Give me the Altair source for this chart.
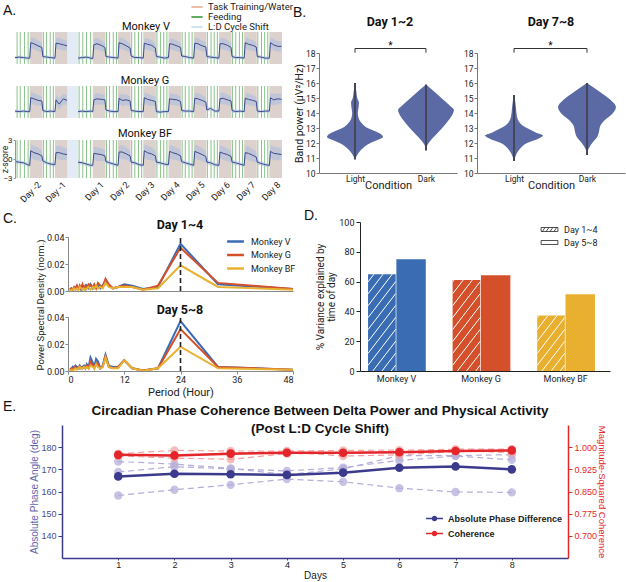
import altair as alt
import pandas as pd

W, H = 626, 582
FONT = "Roboto"
SANS = "Liberation Sans"

# ======================= DATA =======================
# ---- Panel A: z-scored delta power time series (hours from start of recording)
A_HOURS = [0, 4, 8, 12, 14, 15, 18, 22, 25.5, 26.5, 30, 34, 38, 39, 42, 46, 49.5,
           60, 64, 68, 72,
           74, 75, 78, 82, 85.5, 86.5, 90, 94,
           98, 99, 102, 106, 109.5, 110.5, 114, 118,
           122, 123, 126, 130, 133.5, 134.5, 138, 142,
           146, 147, 150, 154, 157.5, 158.5, 162, 166,
           170, 171, 174, 178, 181.5, 182.5, 186, 190,
           194, 195, 198, 202, 205.5, 206.5, 210, 214,
           218, 219, 222, 226, 229.5, 230.5, 234, 238,
           242, 243, 246, 250, 253.5]
A_V = [-1.8, -1.7, -1.8, -1.9, -1.9, 1.0, 0.8, 0.4, 0.1, -1.6, -1.7, -1.8, -1.9, 0.9, 0.8, 0.6, 0.4,
       -1.9, -1.8, -1.7, -1.9,
       -2.0, 0.6, 0.8, 0.5, 0.1, -1.6, -1.7, -1.8,
       -1.9, 1.0, 0.8, 0.4, 0.0, -1.5, -1.8, -1.8,
       -1.9, 0.9, 0.7, 0.5, 0.0, -1.6, -1.7, -1.9,
       -1.8, 0.8, 0.7, 0.4, 0.1, -1.5, -1.6, -1.8,
       -1.9, 0.9, 0.8, 0.4, 0.2, -1.6, -1.7, -1.8,
       -1.9, 0.8, 0.8, 0.5, 0.1, -1.6, -1.8, -1.8,
       -1.9, 1.0, 0.7, 0.5, 0.2, -1.6, -1.7, -1.9,
       -1.9, 1.0, 0.6, 0.3, 0.3]
A_G = [-1.7, -1.8, -1.7, -1.8, -1.8, 0.8, 0.6, 0.3, 0.2, -1.6, -1.8, -1.7, -1.8, 0.4, -0.4, 0.6, 0.3,
       -1.8, -1.7, -1.8, -1.7,
       -1.8, 0.4, 0.6, 0.5, 0.4, -1.5, -1.7, -1.8,
       -1.8, 0.7, 0.3, 0.4, 0.2, -1.6, -1.7, -1.8,
       -1.8, 0.8, 0.5, 0.3, 0.1, -1.8, -1.9, -1.8,
       -1.8, 0.6, 0.5, 0.4, 0.1, -1.6, -1.7, -1.7,
       -1.8, 0.7, 0.6, 0.3, 0.0, -1.5, -1.2, -1.7,
       -1.7, 0.6, 0.7, 0.4, 0.2, -1.6, -1.8, -1.7,
       -1.8, 0.7, 0.5, 0.3, 0.1, -1.7, -1.8, -1.7,
       -1.7, 0.8, 0.4, 0.6, 0.5]
A_BF = [-0.4, -0.5, -0.6, -0.9, -1.0, 1.3, 1.0, 0.8, 0.5, -0.3, -0.6, -0.8, -0.9, 1.0, 1.0, 0.8, 0.7,
        -0.5, -0.6, -0.8, -1.0,
        -1.0, 0.9, 0.8, 0.7, 0.5, -0.4, -0.6, -0.8,
        -1.0, 1.1, 1.1, 0.8, 0.5, -0.5, -0.6, -0.9,
        -1.0, 1.3, 1.0, 0.8, 0.5, -0.5, -0.6, -0.8,
        -0.9, 1.2, 1.0, 0.8, 0.5, -0.4, -0.6, -0.8,
        -1.0, 1.2, 1.0, 0.7, 0.4, -0.5, -0.6, -0.9,
        -1.0, 1.1, 0.9, 0.7, 0.4, -0.5, -0.6, -0.8,
        -1.0, 1.0, 0.9, 0.6, 0.3, -0.5, -0.7, -0.9,
        -1.0, 1.2, 0.9, 0.8, 0.7]
A_SPREAD = [0.3, 0.3, 0.3, 0.3, 0.3, 1.0, 1.1, 1.0, 0.9, 0.4, 0.3, 0.3, 0.3, 1.0, 1.1, 1.0, 0.9,
            0.3, 0.3, 0.3, 0.3,
            0.3, 1.0, 1.1, 1.0, 0.9, 0.4, 0.3, 0.3,
            0.3, 1.0, 1.1, 1.0, 0.9, 0.4, 0.3, 0.3,
            0.3, 1.0, 1.1, 1.0, 0.9, 0.4, 0.3, 0.3,
            0.3, 1.0, 1.1, 1.0, 0.9, 0.4, 0.3, 0.3,
            0.3, 1.0, 1.1, 1.0, 0.9, 0.4, 0.3, 0.3,
            0.3, 1.0, 1.1, 1.0, 0.9, 0.4, 0.3, 0.3,
            0.3, 1.0, 1.1, 1.0, 0.9, 0.4, 0.3, 0.3,
            0.3, 1.0, 1.1, 1.0, 0.9]
A_DARK_START = [14, 38, 74, 98, 122, 146, 170, 194, 218, 242]
A_DARK_END = [26, 50, 86, 110, 134, 158, 182, 206, 230, 254]
A_SHIFT = [50, 60]
A_FEEDING = [2, 5, 9, 12.5, 27, 30, 33.5, 36.5, 61, 64.5, 68, 72,
             87, 90, 93.5, 96.5, 111, 114, 117.5, 120.5, 135, 138.5, 141.5, 144.5,
             159, 162, 165.5, 168.5, 183, 186.5, 189.5, 192.5, 207, 210, 213.5, 216.5,
             231, 234.5, 237.5, 240.5]
A_TICKS = [20, 44, 80, 104, 128, 152, 176, 200, 224, 248]
A_DAY_LABELS = ["Day -2", "Day -1", "Day 1", "Day 2", "Day 3", "Day 4",
                "Day 5", "Day 6", "Day 7", "Day 8"]
A_LEGEND = ["Task Training/Water", "Feeding", "L:D Cycle Shift"]

# ---- Panel B: violin profiles (band power level, relative density width)
B1_LIGHT_Y = [10.9, 11.2, 11.6, 12.0, 12.2, 12.4, 12.6, 12.8, 13.0, 13.3, 13.6, 14.0, 14.4, 14.7, 15.0, 15.4, 16.0]
B1_LIGHT_W = [0.0, 0.08, 0.25, 0.55, 0.8, 1.0, 0.92, 0.7, 0.45, 0.25, 0.14, 0.1, 0.13, 0.14, 0.08, 0.05, 0.0]
B1_DARK_Y = [11.5, 11.9, 12.2, 12.6, 13.0, 13.5, 14.0, 14.2, 14.5, 15.0, 15.5, 15.9]
B1_DARK_W = [0.0, 0.06, 0.18, 0.38, 0.58, 0.8, 0.97, 1.0, 0.85, 0.55, 0.25, 0.0]
B2_LIGHT_Y = [10.8, 11.2, 11.6, 12.0, 12.3, 12.5, 12.7, 12.9, 13.1, 13.4, 13.8, 14.3, 14.8, 15.2]
B2_LIGHT_W = [0.0, 0.07, 0.2, 0.45, 0.85, 1.0, 0.75, 0.55, 0.35, 0.18, 0.1, 0.07, 0.04, 0.0]
B2_DARK_Y = [11.2, 11.6, 12.0, 12.4, 12.8, 13.1, 13.5, 13.9, 14.4, 14.9, 15.4, 16.0]
B2_DARK_W = [0.0, 0.05, 0.18, 0.35, 0.42, 0.45, 0.6, 0.85, 1.0, 0.8, 0.45, 0.0]

# ---- Panel C: power spectral density vs period
C_PERIOD = [48, 32, 24, 19.2, 16, 13.7, 12, 10.7, 9.6, 8.7, 8, 7.4, 6.9, 6.4, 6, 5.6,
            5.3, 4.8, 4.4, 4, 3.7, 3.4, 3.1, 2.8, 2.5, 2.2, 1.9, 1.6, 1.3, 1.0, 0.7, 0.4]
C_MONKEYS = ["Monkey V", "Monkey G", "Monkey BF"]
C_COLORS = ["#3a6cb4", "#d4502b", "#e9b030"]
C14_V = [0.0015, 0.005, 0.035, 0.003, 0.0015, 0.004, 0.005, 0.003, 0.002, 0.004, 0.008, 0.004, 0.002, 0.005, 0.003, 0.004,
         0.002, 0.005, 0.002, 0.004, 0.001, 0.003, 0.004, 0.001, 0.003, 0.002, 0.003, 0.001, 0.002, 0.001, 0.002, 0.001]
C14_G = [0.0015, 0.006, 0.032, 0.004, 0.001, 0.003, 0.004, 0.003, 0.002, 0.005, 0.009, 0.003, 0.004, 0.006, 0.002, 0.005,
         0.003, 0.004, 0.005, 0.002, 0.004, 0.002, 0.005, 0.002, 0.004, 0.001, 0.004, 0.002, 0.003, 0.001, 0.002, 0.001]
C14_BF = [0.001, 0.003, 0.019, 0.002, 0.001, 0.003, 0.003, 0.003, 0.002, 0.003, 0.006, 0.002, 0.003, 0.002, 0.004, 0.002,
          0.003, 0.001, 0.003, 0.002, 0.001, 0.002, 0.001, 0.002, 0.003, 0.001, 0.002, 0.001, 0.002, 0.001, 0.001, 0.0]
C58_V = [0.001, 0.003, 0.037, 0.002, 0.0003, 0.002, 0.008, 0.003, 0.003, 0.004, 0.012, 0.004, 0.002, 0.007, 0.009, 0.003,
         0.006, 0.010, 0.003, 0.005, 0.002, 0.004, 0.003, 0.002, 0.004, 0.002, 0.003, 0.004, 0.002, 0.003, 0.001, 0.001]
C58_G = [0.001, 0.003, 0.031, 0.002, 0.0003, 0.002, 0.008, 0.003, 0.002, 0.003, 0.011, 0.003, 0.002, 0.005, 0.006, 0.002,
         0.004, 0.007, 0.002, 0.004, 0.003, 0.003, 0.002, 0.003, 0.002, 0.003, 0.002, 0.002, 0.003, 0.001, 0.002, 0.001]
C58_BF = [0.001, 0.002, 0.018, 0.002, 0.0002, 0.002, 0.008, 0.002, 0.002, 0.003, 0.010, 0.003, 0.002, 0.003, 0.005, 0.002,
          0.003, 0.004, 0.002, 0.003, 0.002, 0.003, 0.002, 0.002, 0.003, 0.002, 0.001, 0.002, 0.001, 0.001, 0.001, 0.0]

# ---- Panel D: % variance explained by time of day
D_MONKEYS = ["Monkey V", "Monkey G", "Monkey BF"]
D_DAY14 = [65.0, 61.0, 37.3]
D_DAY58 = [75.0, 64.2, 51.5]
D_PERIODS = ["Day 1~4", "Day 5~8"]

# ---- Panel E: phase coherence per day
E_DAYS = [1, 2, 3, 4, 5, 6, 7, 8]
E_PHASE_MEAN = [166.8, 168.0, 167.8, 167.5, 168.5, 170.7, 171.3, 170.0]
E_PHASE_M1 = [158.2, 160.8, 163.0, 165.6, 164.4, 161.5, 159.8, 159.6]
E_PHASE_M2 = [168.8, 171.2, 170.2, 169.3, 170.8, 174.0, 176.0, 174.3]
E_PHASE_M3 = [173.5, 172.4, 170.4, 167.6, 170.2, 176.2, 176.2, 176.6]
E_COH_MEAN = [0.974, 0.972, 0.978, 0.981, 0.981, 0.983, 0.987, 0.989]
E_COH_M1 = [0.978, 0.989, 0.987, 0.987, 0.989, 0.990, 0.993, 0.994]
E_COH_M2 = [0.970, 0.963, 0.959, 0.978, 0.978, 0.985, 0.989, 0.981]
E_COH_M3 = [0.974, 0.970, 0.981, 0.984, 0.970, 0.974, 0.985, 0.991]
E_LEGEND = ["Absolute Phase Difference", "Coherence"]

# ======================= HELPERS =======================
def lin(domain, rng):
    return alt.Scale(domain=domain, range=rng, nice=False, zero=False)

def label_expr(values, labels):
    expr = "''"
    for v, l in reversed(list(zip(values, labels))):
        expr = f"datum.value == {v} ? '{l}' : ({expr})"
    return expr

def texts(rows, **style):
    df = pd.DataFrame(rows, columns=["t", "px", "py"])
    return alt.Chart(df).mark_text(**style).encode(
        x=alt.X("px:Q", scale=None, axis=None),
        y=alt.Y("py:Q", scale=None, axis=None),
        text="t:N")

children = []

# ======================= PANEL A =======================
A_X0, A_X1 = 15, 282
A_STRIPS = [("Monkey V", A_V, 32, 64), ("Monkey G", A_G, 86, 118), ("Monkey BF", A_BF, 140, 178)]
for i, (name, vals, ytop, ybot) in enumerate(A_STRIPS):
    last = i == len(A_STRIPS) - 1
    xs = lin([0, 254], [A_X0, A_X1])
    ys = lin([-3, 3], [ybot, ytop])
    df = pd.DataFrame({"hour": A_HOURS, "z": vals, "spread": A_SPREAD})
    df["seg"] = ["pre" if h < 55 else "post" for h in A_HOURS]
    df["lo"] = df.z - df.spread
    df["hi"] = df.z + df.spread
    dark = pd.DataFrame({"start": A_DARK_START, "end": A_DARK_END, "lo": -3, "hi": 3})
    shift = pd.DataFrame({"start": [A_SHIFT[0]], "end": [A_SHIFT[1]], "lo": [-3], "hi": [3]})
    feed = pd.DataFrame({"hour": A_FEEDING, "lo": -3, "hi": 3})
    children.append(alt.Chart(dark).mark_rect(color="#dcd1cc").encode(
        x=alt.X("start:Q", scale=xs, axis=None), x2="end:Q",
        y=alt.Y("lo:Q", scale=ys, axis=None), y2="hi:Q"))
    children.append(alt.Chart(shift).mark_rect(color="#e2ebf6").encode(
        x=alt.X("start:Q", scale=xs, axis=None), x2="end:Q",
        y=alt.Y("lo:Q", scale=ys, axis=None), y2="hi:Q"))
    children.append(alt.Chart(feed).mark_rule(color="#7dbb7d", strokeWidth=0.9).encode(
        x=alt.X("hour:Q", scale=xs, axis=None),
        y=alt.Y("lo:Q", scale=ys, axis=None), y2="hi:Q"))
    children.append(alt.Chart(df).mark_area(color="#a9bde2", opacity=0.55).encode(
        x=alt.X("hour:Q", scale=xs, axis=None),
        y=alt.Y("lo:Q", scale=ys, axis=None), y2="hi:Q", detail="seg:N"))
    if last:
        xaxis = alt.Axis(orient="bottom", offset=ybot - H, values=A_TICKS, zindex=2,
                         labelExpr=label_expr(A_TICKS, A_DAY_LABELS), labelAngle=-45,
                         labelFontSize=9, labelPadding=2, domain=False, ticks=False, title=None)
        yaxis = alt.Axis(orient="left", offset=-A_X0, values=[-3, 0, 3], labelFontSize=8, zindex=2,
                         tickSize=2, labelPadding=1, domainColor="#999", tickColor="#999",
                         title="z-score", titleFontSize=8.5, titleX=-11, titleBaseline="middle")
    else:
        xaxis = None
        yaxis = None
    children.append(alt.Chart(df).mark_line(color="#3b4a8c", strokeWidth=1).encode(
        x=alt.X("hour:Q", scale=xs, axis=xaxis),
        y=alt.Y("z:Q", scale=ys, axis=yaxis), detail="seg:N"))

a_leg = pd.DataFrame({"kind": A_LEGEND})
children.append(alt.Chart(a_leg).mark_rule(opacity=0).encode(
    x=alt.value(0), y=alt.value(0),
    color=alt.Color("kind:N", scale=alt.Scale(domain=A_LEGEND, range=["#efbcaa", "#5fae62", "#d5e2f3"]),
                    legend=alt.Legend(orient="none", legendX=192, legendY=2, title=None,
                                      symbolType="M-1.4,0H1.4", symbolSize=64, symbolStrokeWidth=2,
                                      symbolOpacity=1, labelFontSize=9.5, labelOffset=6,
                                      rowPadding=0, padding=0))))

# ======================= PANEL B =======================
B_YS = lin([10, 18], [173, 53])
B_PANELS = [
    (319, 457, [-0.007, 1.937], B1_LIGHT_Y, B1_LIGHT_W, B1_DARK_Y, B1_DARK_W, 0.394, True),
    (477, 625, [-0.007, 2.021], B2_LIGHT_Y, B2_LIGHT_W, B2_DARK_Y, B2_DARK_W, 0.397, False),
]
for (x0, x1, dom, ly, lw, dy, dw, wmax, first) in B_PANELS:
    xs = lin(dom, [x0, x1])
    rows = []
    for cond, c, yy, ww in [("Light", 0.5, ly, lw), ("Dark", 1.5, dy, dw)]:
        for y, w in zip(yy, ww):
            rows.append({"cond": cond, "val": y, "left": c - w * wmax, "right": c + w * wmax})
    vdf = pd.DataFrame(rows)
    cdf = pd.DataFrame({"c": [0.5, 1.5], "lo": [min(ly), min(dy)], "hi": [max(ly), max(dy)]})
    bdf = pd.DataFrame({"x": [0.5, 0.5, 1.5], "x2": [1.5, 0.5, 1.5],
                        "y": [18.3, 18.3, 18.3], "y2": [18.3, 18.02, 18.02]})
    sdf = pd.DataFrame({"x": [1.0], "y": [18.5], "t": ["*"]})
    xaxis = alt.Axis(orient="bottom", offset=173 - H, values=[0.5, 1.5], zindex=2,
                     labelExpr="datum.value < 1 ? 'Light' : 'Dark'", ticks=False,
                     labelFontSize=8.5, labelPadding=1, domainColor="#777",
                     title="Condition", titleFontSize=11, titlePadding=-3)
    yaxis = alt.Axis(orient="left", offset=-x0, values=list(range(10, 19)), labelFontSize=8.5, zindex=2,
                     tickSize=3, labelPadding=1, domainColor="#777", tickColor="#777",
                     title="Band power (µV²/Hz)" if first else None, titleFontSize=10.5, titlePadding=1)
    children.append(alt.Chart(vdf).mark_area(orient="horizontal", interpolate="monotone", color="#5b6aa4").encode(
        y=alt.Y("val:Q", scale=B_YS, axis=yaxis),
        x=alt.X("left:Q", scale=xs, axis=xaxis), x2="right:Q", detail="cond:N"))
    children.append(alt.Chart(cdf).mark_rule(color="#45465a", strokeWidth=2).encode(
        x=alt.X("c:Q", scale=xs, axis=None), y=alt.Y("lo:Q", scale=B_YS, axis=None), y2="hi:Q"))
    children.append(alt.Chart(bdf).mark_rule(color="#333", strokeWidth=1).encode(
        x=alt.X("x:Q", scale=xs, axis=None), x2="x2:Q",
        y=alt.Y("y:Q", scale=B_YS, axis=None), y2="y2:Q"))
    children.append(alt.Chart(sdf).mark_text(fontSize=10, font=FONT).encode(
        x=alt.X("x:Q", scale=xs, axis=None), y=alt.Y("y:Q", scale=B_YS, axis=None), text="t:N"))

# ======================= PANEL C =======================
C_XS = lin([0, 48], [68, 293])
for (series, ytop, ybot, show_x, show_leg) in [((C14_V, C14_G, C14_BF), 237, 291, False, True),
                                               ((C58_V, C58_G, C58_BF), 317, 371, True, False)]:
    ys = lin([0, 0.04], [ybot, ytop])
    rows = []
    for m, vals in zip(C_MONKEYS, series):
        for p, v in zip(C_PERIOD, vals):
            rows.append({"monkey": m, "period": p, "psd": v})
    cdf = pd.DataFrame(rows)
    ddf = pd.DataFrame({"p": [24], "lo": [0], "hi": [0.041]})
    if show_x:
        xaxis = alt.Axis(orient="bottom", offset=ybot - H, values=[0, 12, 24, 36, 48], labelFontSize=9,
                         tickSize=3, labelPadding=1, domainColor="#888", tickColor="#888", zindex=2,
                         title="Period (Hour)", titleFontSize=11, titlePadding=2)
    else:
        xaxis = alt.Axis(orient="bottom", offset=ybot - H, labels=False, ticks=False, zindex=2,
                         domainColor="#888", title=None)
    yaxis = alt.Axis(orient="left", offset=-68, values=[0, 0.02, 0.04], format=".2f", labelFontSize=9,
                     tickSize=3, labelPadding=1, domainColor="#888", tickColor="#888", title=None, zindex=2)
    leg = alt.Legend(orient="none", legendX=228, legendY=234, title=None, symbolType="M-1.4,0H1.4",
                     symbolSize=144, symbolStrokeWidth=2.5, labelFontSize=9, labelOffset=8,
                     rowPadding=0.5, padding=0) if show_leg else None
    children.append(alt.Chart(cdf).mark_line(strokeWidth=2).encode(
        x=alt.X("period:Q", scale=C_XS, axis=xaxis),
        y=alt.Y("psd:Q", scale=ys, axis=yaxis),
        color=alt.Color("monkey:N", scale=alt.Scale(domain=C_MONKEYS, range=C_COLORS), legend=leg),
        order=alt.Order("period:Q")))
    children.append(alt.Chart(ddf).mark_rule(color="#222", strokeDash=[5, 3], strokeWidth=1.6).encode(
        x=alt.X("p:Q", scale=C_XS, axis=None), y=alt.Y("lo:Q", scale=ys, axis=None), y2="hi:Q"))

# ======================= PANEL D =======================
D_XS = lin([0.074, 3.03], [360, 610])
D_YS = lin([0, 100], [371, 222])
rows = []
hatch = []
SLOPE, STEP = 74.0, 8.0
for i, m in enumerate(D_MONKEYS):
    c = i + 0.5
    col = C_COLORS[i]
    rows.append({"x": c - 0.331, "x2": c - 0.004, "v": D_DAY14[i], "col": col})
    rows.append({"x": c + 0.004, "x2": c + 0.352, "v": D_DAY58[i], "col": col})
    x0, x1, top = c - 0.331, c - 0.004, D_DAY14[i]
    b = -SLOPE * (x1 - x0) + STEP / 2
    while b < top:
        xa = max(x0, x0 + (0 - b) / SLOPE)
        xb = min(x1, x0 + (top - b) / SLOPE)
        if xb > xa:
            hatch.append({"x": xa, "y": b + SLOPE * (xa - x0), "x2": xb, "y2": b + SLOPE * (xb - x0)})
        b += STEP
bars = pd.DataFrame(rows)
bars["zero"] = 0
hdf = pd.DataFrame(hatch)
children.append(alt.Chart(bars).mark_rect().encode(
    x=alt.X("x:Q", scale=D_XS,
            axis=alt.Axis(orient="bottom", offset=371 - H, values=[0.5, 1.5, 2.5], zindex=2,
                          labelExpr=label_expr([0.5, 1.5, 2.5], D_MONKEYS), ticks=False,
                          labelFontSize=9, labelPadding=3, domainColor="#222", title=None)),
    x2="x2:Q",
    y=alt.Y("zero:Q", scale=D_YS,
            axis=alt.Axis(orient="left", offset=-360, values=[0, 20, 40, 60, 80, 100], labelFontSize=9,
                          tickSize=4, labelPadding=2, domainColor="#222", tickColor="#222", zindex=2,
                          title=["% Variance explained by", "time of day"], titleFontSize=10,
                          titlePadding=2, titleLineHeight=11)),
    y2="v:Q",
    color=alt.Color("col:N", scale=None)))
children.append(alt.Chart(hdf).mark_rule(color="white", strokeWidth=1).encode(
    x=alt.X("x:Q", scale=D_XS, axis=None), x2="x2:Q",
    y=alt.Y("y:Q", scale=D_YS, axis=None), y2="y2:Q"))

HATCH_PATH = ("M-1.4,-0.33H1.4V0.33H-1.4Z M-1.2,0.33L-0.75,-0.33 M-0.55,0.33L-0.1,-0.33 "
              "M0.1,0.33L0.55,-0.33 M0.75,0.33L1.2,-0.33")
PLAIN_PATH = "M-1.4,-0.33H1.4V0.33H-1.4Z"
d_leg = pd.DataFrame({"period": D_PERIODS})
children.append(alt.Chart(d_leg).mark_point(opacity=0, filled=False).encode(
    x=alt.value(0), y=alt.value(0),
    shape=alt.Shape("period:N", scale=alt.Scale(domain=D_PERIODS, range=[HATCH_PATH, PLAIN_PATH]),
                    legend=alt.Legend(orient="none", legendX=543, legendY=223, title=None, symbolSize=144,
                                      symbolOpacity=1, symbolFillColor="white", symbolStrokeColor="#222",
                                      symbolStrokeWidth=0.8, labelFontSize=9, labelOffset=8,
                                      rowPadding=1, padding=0))))

# ======================= PANEL E =======================
E_XS = lin([0, 9], [62, 568])
E_YL = lin([130, 190], [558, 425])
E_YR = lin([0.625, 1.075], [558, 425])
NAVY, LPURP, RED, LRED = "#3b3a8c", "#b4acd9", "#e4262b", "#f3a1a1"

def e_long(series_list):
    r = []
    for k, s in enumerate(series_list):
        for d, v in zip(E_DAYS, s):
            r.append({"day": d, "v": v, "s": k})
    return pd.DataFrame(r)

ph_ind = e_long([E_PHASE_M1, E_PHASE_M2, E_PHASE_M3])
ph_mean = pd.DataFrame({"day": E_DAYS, "v": E_PHASE_MEAN})
co_ind = e_long([E_COH_M1, E_COH_M2, E_COH_M3])
co_mean = pd.DataFrame({"day": E_DAYS, "v": E_COH_MEAN})

e_xaxis = alt.Axis(orient="bottom", offset=558 - H, values=E_DAYS, labelFontSize=9, labelFont=SANS,
                   tickSize=2, labelPadding=0, domainColor=NAVY, domainWidth=1.5, tickColor="#444", zindex=2,
                   title="Days", titleFont=SANS, titleFontSize=10, titlePadding=1)
e_ylaxis = alt.Axis(orient="left", offset=-62, values=[140, 150, 160, 170, 180], labelFontSize=9,
                    labelFont=SANS, labelColor="#4a4a8a", tickSize=4, tickColor=NAVY, labelPadding=2,
                    domainColor=NAVY, domainWidth=1.5, title="Absolute Phase Angle (deg)", zindex=2,
                    titleFont=SANS, titleFontSize=10, titleColor="#6464aa", titlePadding=1)
e_yraxis = alt.Axis(orient="right", offset=568 - W, values=[0.7, 0.775, 0.85, 0.925, 1.0], format=".3f",
                    labelFontSize=9, labelFont=SANS, labelColor=RED, tickSize=4, tickColor=RED, zindex=2,
                    labelPadding=2, domainColor=RED, domainWidth=1.5, title="Magnitude-Squared Coherence",
                    titleFont=SANS, titleFontSize=9.5, titleColor=RED, titlePadding=0)

children += [
    alt.Chart(ph_ind).mark_line(color=LPURP, strokeDash=[6, 4], strokeWidth=1.2).encode(
        x=alt.X("day:Q", scale=E_XS, axis=e_xaxis), y=alt.Y("v:Q", scale=E_YL, axis=e_ylaxis), detail="s:N"),
    alt.Chart(ph_ind).mark_circle(color=LPURP, size=70, opacity=0.75).encode(
        x=alt.X("day:Q", scale=E_XS, axis=None), y=alt.Y("v:Q", scale=E_YL, axis=None)),
    alt.Chart(ph_mean).mark_line(color=NAVY, strokeWidth=2.5).encode(
        x=alt.X("day:Q", scale=E_XS, axis=None), y=alt.Y("v:Q", scale=E_YL, axis=None)),
    alt.Chart(ph_mean).mark_circle(color=NAVY, size=75, opacity=1).encode(
        x=alt.X("day:Q", scale=E_XS, axis=None), y=alt.Y("v:Q", scale=E_YL, axis=None)),
    alt.Chart(co_ind).mark_line(color=LRED, strokeDash=[6, 4], strokeWidth=1.2).encode(
        x=alt.X("day:Q", scale=E_XS, axis=None), y=alt.Y("v:Q", scale=E_YR, axis=e_yraxis), detail="s:N"),
    alt.Chart(co_ind).mark_circle(color=LRED, size=70, opacity=0.7).encode(
        x=alt.X("day:Q", scale=E_XS, axis=None), y=alt.Y("v:Q", scale=E_YR, axis=None)),
    alt.Chart(co_mean).mark_line(color=RED, strokeWidth=2.5).encode(
        x=alt.X("day:Q", scale=E_XS, axis=None), y=alt.Y("v:Q", scale=E_YR, axis=None)),
    alt.Chart(co_mean).mark_circle(color=RED, size=75, opacity=1).encode(
        x=alt.X("day:Q", scale=E_XS, axis=None), y=alt.Y("v:Q", scale=E_YR, axis=None)),
]

E_SYM = ("M-1.3,-0.13H-0.3V0.13H-1.3Z M0.3,-0.13H1.3V0.13H0.3Z "
         "M-0.42,0A0.42,0.42 0 1,1 0.42,0A0.42,0.42 0 1,1 -0.42,0Z")
e_leg = pd.DataFrame({"kind": E_LEGEND})
children.append(alt.Chart(e_leg).mark_point(opacity=0, filled=True).encode(
    x=alt.value(0), y=alt.value(0),
    color=alt.Color("kind:N", scale=alt.Scale(domain=E_LEGEND, range=[NAVY, RED]),
                    legend=alt.Legend(orient="none", legendX=428, legendY=512, title=None,
                                      symbolType=E_SYM, symbolSize=169, symbolOpacity=1,
                                      symbolStrokeWidth=0, labelFont=SANS, labelFontWeight="bold",
                                      labelFontSize=9, labelOffset=7, rowPadding=3, padding=0))))

# ======================= TEXT =======================
children.append(texts([["A.", 3, 11], ["B.", 293, 13], ["C.", 3, 219], ["D.", 304, 216], ["E.", 3, 407]],
                      font=SANS, fontSize=14, align="left", baseline="middle", color="#111"))
children.append(texts([["Monkey V", 146, 27], ["Monkey G", 145, 81], ["Monkey BF", 145, 134]],
                      font=FONT, fontSize=11, align="center", baseline="middle", color="#111"))
children.append(texts([["Day 1~2", 390, 22], ["Day 7~8", 551, 22], ["Day 1~4", 180, 225], ["Day 5~8", 180, 310]],
                      font=FONT, fontSize=12.5, fontWeight="bold", align="center", baseline="middle", color="#111"))
children.append(texts([["Power Spectral Density (norm.)", 41, 305]],
                      font=FONT, fontSize=9.5, angle=270, align="center", baseline="middle", color="#222"))
children.append(texts([["Circadian Phase Coherence Between Delta Power and Physical Activity", 320, 411],
                       ["(Post L:D Cycle Shift)", 320, 429]],
                      font=SANS, fontSize=13.5, fontWeight="bold", align="center", baseline="middle", color="#111"))

chart = alt.layer(*children).resolve_scale(
    x="independent", y="independent", color="independent", shape="independent"
).properties(
    width=W, height=H, padding=0, autosize=alt.AutoSizeParams(type="none")
).configure_view(stroke=None).configure_axis(
    grid=False, labelFont=FONT, titleFont=FONT, labelColor="#222", titleColor="#222",
    titleFontWeight="normal"
).configure_legend(labelFont=FONT, labelColor="#222")

chart.save("out.html", embed_options={"renderer": "svg", "actions": False})
